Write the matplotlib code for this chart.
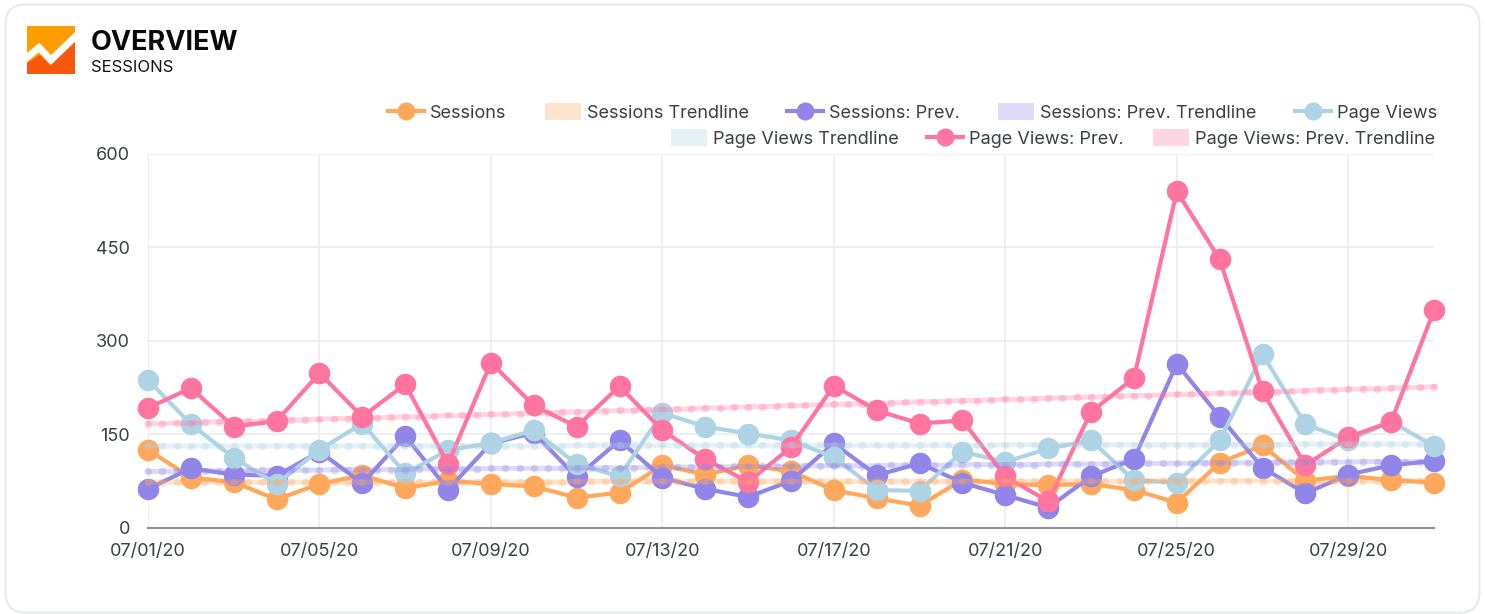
import numpy as np
import matplotlib
matplotlib.use('Agg')
import matplotlib.pyplot as plt
from matplotlib.lines import Line2D
from matplotlib.patches import FancyBboxPatch, Patch, Polygon, Rectangle

plt.rcParams['font.family'] = ['Inter', 'DejaVu Sans']

days = list(range(1, 32))
tick_days = [1, 5, 9, 13, 17, 21, 25, 29]
tick_labels = ['07/01/20', '07/05/20', '07/09/20', '07/13/20', '07/17/20', '07/21/20', '07/25/20', '07/29/20']
y_ticks = [0, 150, 300, 450, 600]

sessions = [125, 80, 73, 45, 70, 84, 63, 75, 70, 66, 48, 56, 100, 85, 100, 90,
            60, 47, 35, 77, 70, 68, 70, 60, 40, 104, 132, 75, 83, 76, 72]
sessions_prev = [62, 95, 85, 83, 122, 71, 147, 61, 135, 152, 81, 140, 80, 62, 49, 75,
                 135, 84, 103, 72, 52, 32, 82, 110, 263, 178, 96, 55, 85, 100, 107]
page_views = [237, 166, 112, 70, 125, 167, 87, 124, 136, 156, 102, 82, 184, 162, 151, 140,
              113, 60, 59, 122, 105, 127, 140, 76, 72, 140, 278, 166, 140, 170, 131]
page_views_prev = [192, 224, 162, 171, 248, 178, 230, 102, 265, 196, 162, 227, 156, 110, 73, 129,
                   228, 188, 167, 172, 82, 42, 186, 240, 540, 431, 219, 100, 145, 170, 349]

sessions_trend = [73] * 30 + [74] * 40 + [75] * 21
sessions_prev_trend = [90, 90, 90, 91, 91, 91, 91, 91, 92, 92, 92, 92, 92, 93, 93, 93,
                       93, 93, 93, 94, 94, 94, 94, 94, 95, 95, 95, 95, 95, 95, 96, 96,
                       96, 96, 96, 97, 97, 97, 97, 97, 97, 98, 98, 98, 98, 98, 99, 99,
                       99, 99, 99, 99, 100, 100, 100, 100, 100, 101, 101, 101, 101, 101, 101, 102,
                       102, 102, 102, 102, 103, 103, 103, 103, 103, 103, 104, 104, 104, 104, 104, 105,
                       105, 105, 105, 105, 105, 106, 106, 106, 106, 106, 107]
page_views_trend = [131] * 30 + [132] * 30 + [133] * 20 + [134] * 11
page_views_prev_trend = [167, 167, 168, 168, 169, 170, 170, 171, 171, 172, 173, 173, 174, 175, 175, 176,
                         176, 177, 178, 178, 179, 180, 180, 181, 182, 182, 183, 184, 184, 185, 186, 186,
                         187, 188, 188, 189, 190, 190, 191, 192, 192, 193, 194, 194, 195, 196, 196, 197,
                         198, 198, 199, 200, 200, 201, 202, 202, 203, 204, 204, 205, 206, 206, 207, 208,
                         208, 209, 210, 210, 211, 212, 212, 213, 214, 214, 215, 216, 216, 217, 218, 218,
                         219, 220, 221, 221, 222, 223, 223, 224, 225, 225, 226]

orange = '#ffa85c'
purple = '#9185e9'
blue = '#aed3e5'
pink = '#ff759f'
text_col = '#3a3f45'

W, H = 1485, 614
fig = plt.figure(figsize=(W / 100, H / 100), dpi=100)

# overlay in pixel coordinates for the card and the logo
bg = fig.add_axes([0, 0, 1, 1], zorder=0)
bg.set_xlim(0, W)
bg.set_ylim(H, 0)
bg.axis('off')
bg.add_patch(FancyBboxPatch((5.5, 4.5), 1474, 608, boxstyle='round,pad=0,rounding_size=20',
                            fc='white', ec='#e8e9ea', lw=1.5))
logo = Rectangle((27, 26), 48, 48, fc='#ff9c00', ec='none')
bg.add_patch(logo)
bg.add_patch(Polygon([(27, 74), (27, 63), (40, 55), (50, 65), (75, 42), (75, 74)], fc='#f6580c', ec='none'))
zig = bg.plot([24, 39, 51, 78], [60, 47.5, 60, 34], color='white', lw=5, solid_joinstyle='miter')[0]
zig.set_clip_path(logo)
fig.text(91 / W, 1 - 50 / H, 'OVERVIEW', fontsize=19.5, fontweight='bold', color='#0a0a0a')
fig.text(91 / W, 1 - 72 / H, 'SESSIONS', fontsize=12, color='#111111')

ax = fig.add_axes([148 / W, 1 - 527.5 / H, (1434 - 148) / W, (527.5 - 154) / H], zorder=1)
ax.patch.set_alpha(0)
ax.set_xlim(1, 31)
ax.set_ylim(0, 600)

trend_x = np.arange(91) / 3 + 1
for vals, col in [(sessions, orange), (sessions_prev, purple), (page_views, blue), (page_views_prev, pink)]:
    ax.plot(days, vals, color=col, lw=3, marker='o', ms=15.5, mew=0, clip_on=False, zorder=3)
for vals, col in [(sessions_trend, orange), (sessions_prev_trend, purple),
                  (page_views_trend, blue), (page_views_prev_trend, pink)]:
    ax.plot(trend_x, vals, color=col, lw=3.6, alpha=0.3, marker='o', ms=5.5, mew=0, clip_on=False, zorder=4)

ax.set_xticks(tick_days)
ax.set_xticklabels(tick_labels)
ax.set_yticks(y_ticks)
ax.grid(True, color='#efefef', lw=1.5)
ax.set_axisbelow(True)
ax.tick_params(length=0, labelsize=13, colors=text_col)
ax.tick_params(axis='x', pad=11)
ax.tick_params(axis='y', pad=13)
for s in ['top', 'right', 'left']:
    ax.spines[s].set_visible(False)
ax.spines['bottom'].set_color('#8f9498')
ax.spines['bottom'].set_linewidth(1.5)


def line_handle(col):
    return Line2D([], [], color=col, lw=3, marker='o', ms=13, mew=0)


def trend_handle(col):
    return Patch(fc=col, alpha=0.3, ec='none')


row1 = [(line_handle(orange), 'Sessions'), (trend_handle(orange), 'Sessions Trendline'),
        (line_handle(purple), 'Sessions: Prev.'), (trend_handle(purple), 'Sessions: Prev. Trendline'),
        (line_handle(blue), 'Page Views')]
row2 = [(trend_handle(blue), 'Page Views Trendline'), (line_handle(pink), 'Page Views: Prev.'),
        (trend_handle(pink), 'Page Views: Prev. Trendline')]

legends = []
for row, ypx, xpx, gap in [(row1, 112.5, 1437, 2.12), (row2, 138.5, 1435, 1.6)]:
    leg = fig.legend([r[0] for r in row], [r[1] for r in row], ncols=len(row), frameon=False,
                     loc='center right', bbox_to_anchor=(xpx / W, 1 - ypx / H), borderaxespad=0, borderpad=0,
                     fontsize=13, labelcolor=text_col, handlelength=2.0, handleheight=1.0,
                     handletextpad=0.33, columnspacing=gap)
    legends.append(leg)

fig.savefig('out.png', dpi=100)
